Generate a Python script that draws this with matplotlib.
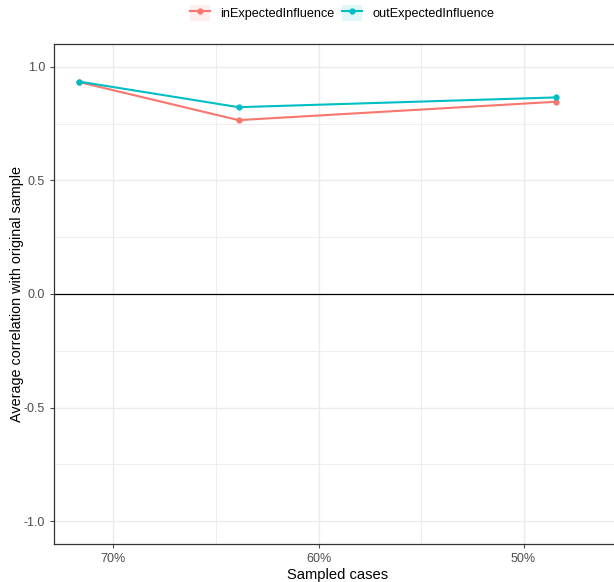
import matplotlib
matplotlib.use("Agg")
import matplotlib.pyplot as plt
from matplotlib.patches import Patch
from matplotlib.lines import Line2D

sampled = [71.7, 63.9, 48.4]
in_ei = [0.933, 0.765, 0.846]
out_ei = [0.935, 0.822, 0.865]
series_names = ["inExpectedInfluence", "outExpectedInfluence"]
colors = ["#F8766D", "#00BFC4"]
xticks = [70, 60, 50]
xticklabels = ["70%", "60%", "50%"]
yticks = [-1.0, -0.5, 0.0, 0.5, 1.0]

plt.rcParams['font.family'] = ['Liberation Sans', 'DejaVu Sans']
fig = plt.figure(figsize=(6.14, 5.82), dpi=100)
W, H = 614, 582
left, right, top, bottom = 54, 622, 44, 544
ax = fig.add_axes([left / W, 1 - bottom / H, (right - left) / W, (bottom - top) / H])

ax.set_xlim(72.9, 45.2)
ax.set_ylim(-1.1, 1.1)

# grid
for x in [70, 65, 60, 55, 50]:
    ax.axvline(x, color="#EBEBEB", lw=1.0 if x % 10 == 0 else 0.6, zorder=0)
for y in [-1.0, -0.75, -0.5, -0.25, 0.25, 0.5, 0.75, 1.0]:
    ax.axhline(y, color="#EBEBEB", lw=1.0 if abs(y * 2 - round(y * 2)) < 1e-9 else 0.6, zorder=0)
ax.axhline(0, color="black", lw=0.9, zorder=1)

handles = []
for vals, name, c in zip([in_ei, out_ei], series_names, colors):
    ax.plot(sampled, vals, color=c, lw=1.5, marker="o", ms=3.5, zorder=3)
    handles.append((Patch(facecolor=c, alpha=0.12, edgecolor="none"),
                    Line2D([], [], color=c, lw=1.5, marker="o", ms=3.5)))

ax.set_xticks(xticks)
ax.set_xticklabels(xticklabels)
ax.set_yticks(yticks)
ax.set_yticklabels(["-1.0", "-0.5", "0.0", "0.5", "1.0"])
ax.tick_params(axis="both", colors="#4D4D4D", labelsize=9, length=3, width=0.8, labelcolor="#4D4D4D")
for s in ax.spines.values():
    s.set_color("#333333")
    s.set_linewidth(0.9)

ax.set_xlabel("Sampled cases", fontsize=10.6, color="black", labelpad=2)
ax.set_ylabel("Average correlation with original sample", fontsize=10.4, color="black", labelpad=0)

fig.legend(handles, series_names, loc="upper center", bbox_to_anchor=(342 / W, 1 + 6 / H),
           ncol=2, frameon=False, fontsize=9.1, handlelength=1.6, handleheight=1.5,
           columnspacing=0.6, handletextpad=0.8)

fig.savefig("out.png", dpi=100)
